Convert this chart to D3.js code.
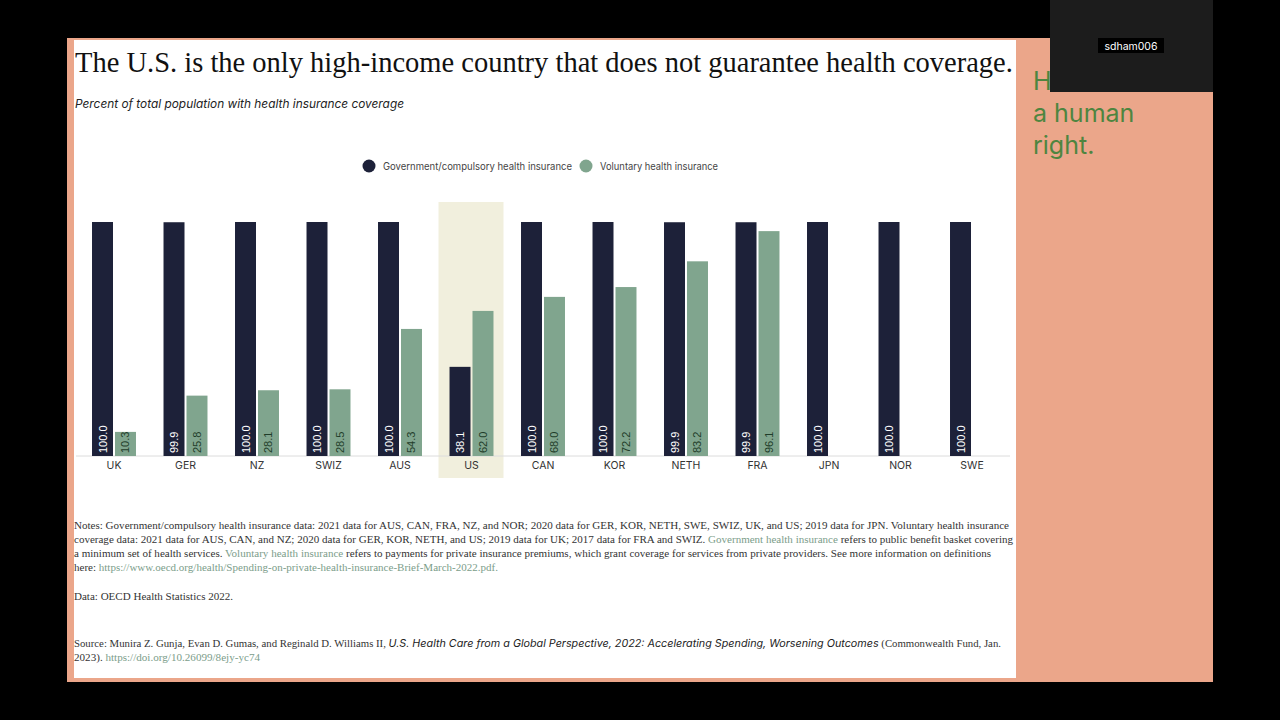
<!DOCTYPE html>
<html>
<head>
<meta charset="utf-8">
<script src="https://cdn.jsdelivr.net/npm/d3@7"></script>
<style>
  html, body { margin: 0; padding: 0; background: #000; }
  svg { display: block; }
</style>
</head>
<body>
<svg id="chart"></svg>
<script>
const countries = ['UK', 'GER', 'NZ', 'SWIZ', 'AUS', 'US', 'CAN', 'KOR', 'NETH', 'FRA', 'JPN', 'NOR', 'SWE']
const govValues = [100.0, 99.9, 100.0, 100.0, 100.0, 38.1, 100.0, 100.0, 99.9, 99.9, 100.0, 100.0, 100.0]
const volValues = [10.3, 25.8, 28.1, 28.5, 54.3, 62.0, 68.0, 72.2, 83.2, 96.1, null, null, null]
const seriesKeys = ['gov', 'vol']
const seriesLabels = ['Government/compulsory health insurance', 'Voluntary health insurance']
const highlighted = 'US'

const title = 'The U.S. is the only high-income country that does not guarantee health coverage.'
const subtitle = 'Percent of total population with health insurance coverage'

const colors = { gov: '#1d2139', vol: '#80a58e', link: '#7b9d8a' }

const w = 1280
const h = 720

const svg = d3.select('#chart')
  .attr('width', w)
  .attr('height', h)

// slide background
svg.append('rect').attr('width', w).attr('height', h).attr('fill', '#000')
svg.append('rect')
  .attr('x', 67).attr('y', 38)
  .attr('width', 1146).attr('height', 644)
  .attr('fill', '#eba68a')
svg.append('rect')
  .attr('x', 74).attr('y', 40)
  .attr('width', 942).attr('height', 638)
  .attr('fill', '#fff')

// right-hand slide text (first line mostly hidden behind the video box)
const side = svg.append('g')
  .attr('font-family', 'Inter, sans-serif')
  .attr('font-size', 25)
  .attr('fill', '#4e8540')
side.append('text').attr('x', 1033).attr('y', 90).text('H')
side.append('text').attr('x', 1033).attr('y', 122).text('a human')
side.append('text').attr('x', 1033).attr('y', 154).text('right.')

// video overlay box
svg.append('rect')
  .attr('x', 1050).attr('y', 0)
  .attr('width', 163).attr('height', 92)
  .attr('fill', '#1c1c1c')
svg.append('rect')
  .attr('x', 1098).attr('y', 38)
  .attr('width', 66).attr('height', 15)
  .attr('fill', '#000')
svg.append('text')
  .attr('x', 1131).attr('y', 49.5)
  .attr('text-anchor', 'middle')
  .attr('font-family', 'Inter, sans-serif')
  .attr('font-size', 10.5)
  .attr('fill', '#fff')
  .text('sdham006')

// titles: shrink the serif title until it fits the panel width
const titleText = svg.append('text')
  .attr('x', 75).attr('y', 72)
  .attr('font-family', '"Liberation Serif", serif')
  .attr('font-size', 30)
  .attr('fill', '#111')
  .text(title)
const natural = titleText.node().getComputedTextLength()
titleText.attr('font-size', Math.min(30, 30 * 938 / natural))

svg.append('text')
  .attr('x', 75).attr('y', 108)
  .attr('font-family', 'Inter, sans-serif')
  .attr('font-style', 'italic')
  .attr('font-size', 12)
  .attr('fill', '#222')
  .attr('textLength', 329)
  .attr('lengthAdjust', 'spacingAndGlyphs')
  .text(subtitle)

// legend
const legend = svg.append('g')
  .attr('font-family', 'Inter, sans-serif')
  .attr('font-size', 10.5)
  .attr('fill', '#444')
const legendX = [369, 586]
const legendLen = [189, 118]
seriesKeys.forEach((k, i) => {
  legend.append('circle')
    .attr('cx', legendX[i]).attr('cy', 166).attr('r', 6.5)
    .attr('fill', colors[k])
  legend.append('text')
    .attr('x', legendX[i] + 14).attr('y', 170)
    .attr('textLength', legendLen[i])
    .attr('lengthAdjust', 'spacingAndGlyphs')
    .text(seriesLabels[i])
})

// scales
const x0 = d3.scaleBand()
  .domain(countries)
  .range([78.25, 1007.75])
  .paddingInner(0.385)
  .paddingOuter(0.1925)

const x1 = d3.scaleBand()
  .domain(seriesKeys)
  .range([0, x0.bandwidth()])
  .paddingInner(0.087)

const y = d3.scaleLinear()
  .domain([0, 100])
  .range([456, 222])

const rows = countries.map((c, i) => ({ country: c, gov: govValues[i], vol: volValues[i] }))

// highlight behind US
const hx = x0(highlighted) + x0.bandwidth() / 2
svg.append('rect')
  .attr('x', hx - 33).attr('y', 202)
  .attr('width', 65).attr('height', 276)
  .attr('fill', '#f1efdd')

// baseline
svg.append('line')
  .attr('x1', 76).attr('x2', 1010)
  .attr('y1', y(0)).attr('y2', y(0))
  .attr('stroke', '#dcdcdc')
  .attr('stroke-width', 1)

// bars
const groups = svg.append('g')
  .selectAll('g')
  .data(rows)
  .join('g')
  .attr('transform', d => `translate(${x0(d.country)},0)`)

const cells = groups.selectAll('g')
  .data(d => seriesKeys.filter(k => d[k] != null).map(k => ({ key: k, value: d[k] })))
  .join('g')

cells.append('rect')
  .attr('x', d => x1(d.key))
  .attr('y', d => y(d.value))
  .attr('width', x1.bandwidth())
  .attr('height', d => y(0) - y(d.value))
  .attr('fill', d => colors[d.key])

cells.append('text')
  .attr('transform', d => `translate(${x1(d.key) + x1.bandwidth() / 2 + 4},${y(0) - 3}) rotate(-90)`)
  .attr('font-family', '"Liberation Sans", Arial, sans-serif')
  .attr('font-size', 11)
  .attr('fill', d => d.key === 'gov' ? '#fff' : '#1f3d2a')
  .text(d => d3.format('.1f')(d.value))

// country axis
const xAxis = d3.axisBottom(x0).tickSize(0).tickPadding(6)
const axisG = svg.append('g')
  .attr('transform', `translate(0,${y(0)})`)
  .call(xAxis)
axisG.select('.domain').remove()
axisG.selectAll('text')
  .attr('font-family', 'Inter, sans-serif')
  .attr('font-size', 10.5)
  .attr('fill', '#333')

// notes
const notes = svg.append('g')
  .attr('font-family', '"Liberation Serif", "Times New Roman", serif')
  .attr('font-size', 10.5)
  .attr('fill', '#333')

const noteLines = [
  { y: 529, len: 935, parts: [['Notes: Government/compulsory health insurance data: 2021 data for AUS, CAN, FRA, NZ, and NOR; 2020 data for GER, KOR, NETH, SWE, SWIZ, UK, and US; 2019 data for JPN. Voluntary health insurance']] },
  { y: 543, len: 939, parts: [['coverage data: 2021 data for AUS, CAN, and NZ; 2020 data for GER, KOR, NETH, and US; 2019 data for UK; 2017 data for FRA and SWIZ. '], ['Government health insurance', 'link'], [' refers to public benefit basket covering']] },
  { y: 557, len: 917, parts: [['a minimum set of health services. '], ['Voluntary health insurance', 'link'], [' refers to payments for private insurance premiums, which grant coverage for services from private providers. See more information on definitions']] },
  { y: 571, len: 424, parts: [['here: '], ['https://www.oecd.org/health/Spending-on-private-health-insurance-Brief-March-2022.pdf.', 'link']] },
  { y: 600, len: 159, parts: [['Data: OECD Health Statistics 2022.']] },
  { y: 647, len: 927, parts: [['Source: Munira Z. Gunja, Evan D. Gumas, and Reginald D. Williams II, '], ['U.S. Health Care from a Global Perspective, 2022: Accelerating Spending, Worsening Outcomes', 'italic'], [' (Commonwealth Fund, Jan.']] },
  { y: 661, len: 186, parts: [['2023). '], ['https://doi.org/10.26099/8ejy-yc74', 'link']] }
]

noteLines.forEach(line => {
  const t = notes.append('text')
    .attr('x', 74).attr('y', line.y)
    .attr('textLength', line.len)
    .attr('lengthAdjust', 'spacingAndGlyphs')
  line.parts.forEach(([s, kind]) => {
    const span = t.append('tspan').text(s)
    if (kind === 'link') span.attr('fill', colors.link)
    if (kind === 'italic') {
      span.attr('font-family', 'Inter, sans-serif')
        .attr('font-style', 'italic')
        .attr('fill', '#222')
    }
  })
})
</script>
</body>
</html>
